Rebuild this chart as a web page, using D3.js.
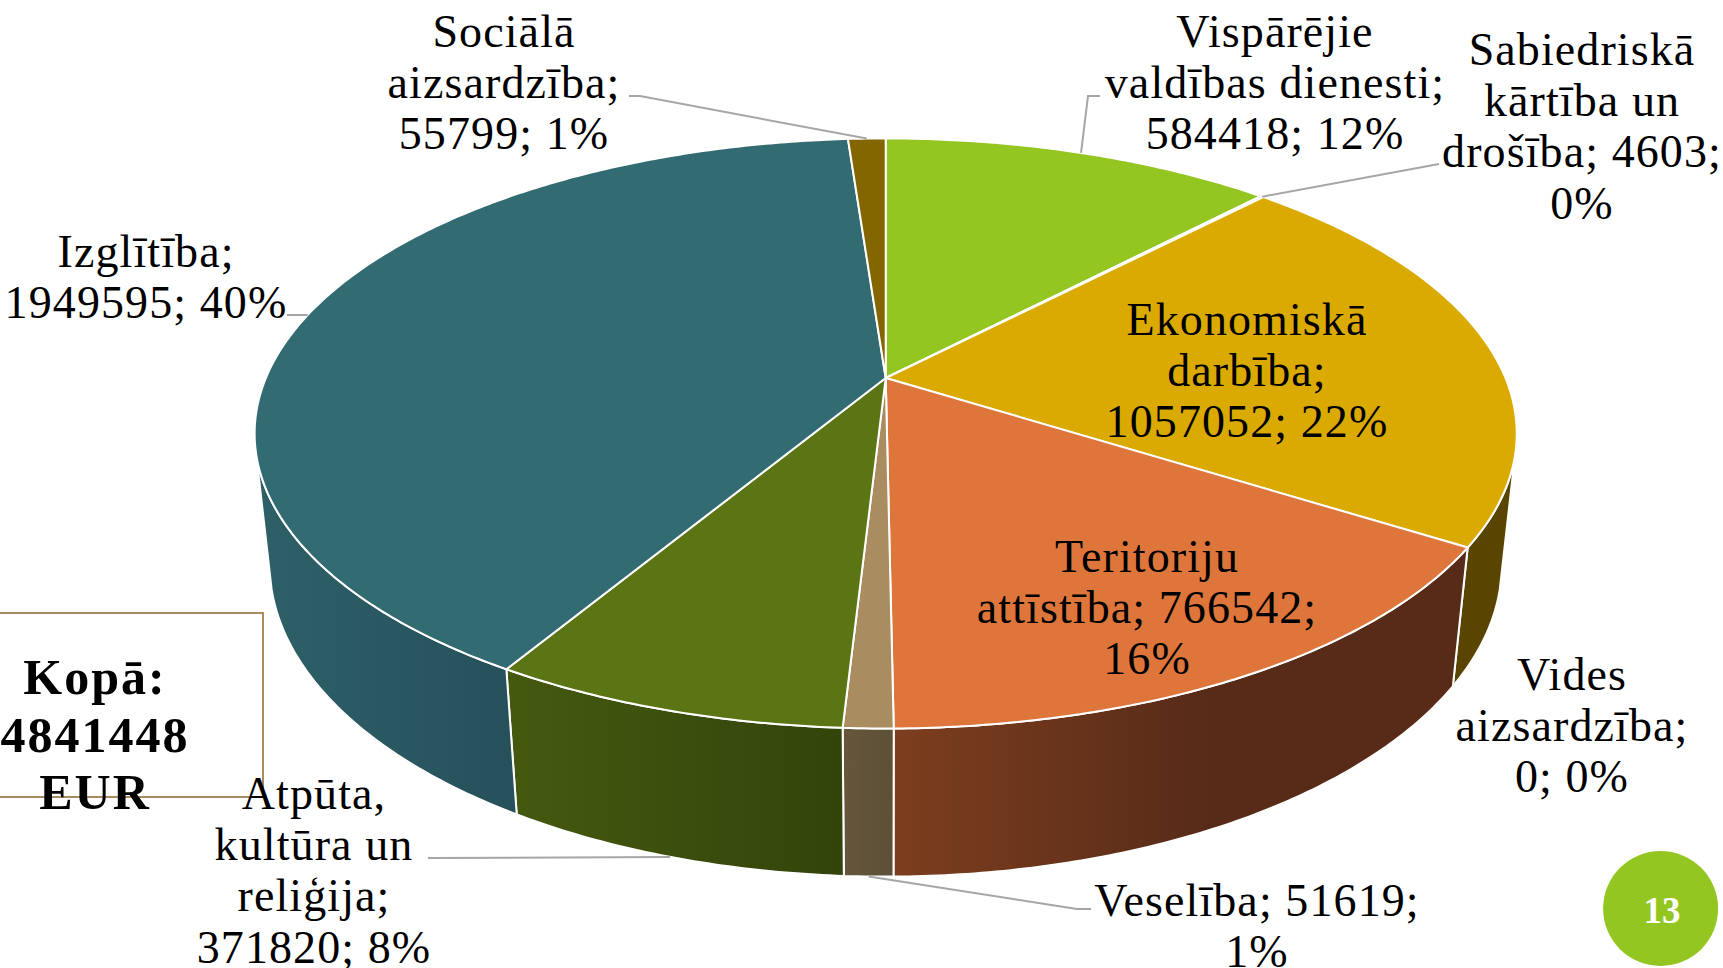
<!DOCTYPE html>
<html>
<head>
<meta charset="utf-8">
<script src="https://cdn.jsdelivr.net/npm/d3@7"></script>
<style>
  html, body { margin: 0; padding: 0; background: #fff; overflow: hidden; }
  text { font-family: "Liberation Serif", serif; fill: #000; }
</style>
</head>
<body>
<svg id="chart" width="1723" height="968"></svg>
<script>
const categories = [
  "Vispārējie valdības dienesti", "Sabiedriskā kārtība un drošība", "Ekonomiskā darbība",
  "Vides aizsardzība", "Teritoriju attīstība", "Veselība",
  "Atpūta, kultūra un reliģija", "Izglītība", "Sociālā aizsardzība",
];
const values = [584418, 4603, 1057052, 0, 766542, 51619, 371820, 1949595, 55799];
const percents = ["12%", "0%", "22%", "0%", "16%", "1%", "8%", "40%", "1%"];
const topColors = ["#94c622", "#cfe3e6", "#dbaa00", "#dbaa00", "#de763b", "#a98c60", "#5b7515", "#336b73", "#836600"];
const wallColors = [
  ["#5d7c14", "#5d7c14"], ["#7f8c8c", "#7f8c8c"], ["#5a4500", "#5a4500"], ["#5a4500", "#5a4500"],
  ["#7c3e1e", "#572b18"], ["#66563c", "#5c5037"], ["#45590f", "#33440b"], ["#2e6067", "#26505a"], ["#4d3c00", "#4d3c00"],
];
const labelLines = [
  ["Vispārējie", "valdības dienesti;", "584418; 12%"],
  ["Sabiedriskā", "kārtība un", "drošība; 4603;", "0%"],
  ["Ekonomiskā", "darbība;", "1057052; 22%"],
  ["Vides", "aizsardzība;", "0; 0%"],
  ["Teritoriju", "attīstība; 766542;", "16%"],
  ["Veselība; 51619;", "1%"],
  ["Atpūta,", "kultūra un", "reliģija;", "371820; 8%"],
  ["Izglītība;", "1949595; 40%"],
  ["Sociālā", "aizsardzība;", "55799; 1%"],
];
const labelAnchors = [
  [1275, 47], [1582, 65], [1247, 335], [1572, 690], [1147, 572],
  [1257, 916], [314, 809], [146, 267], [504, 47],
];
// elbow of each leader line, null when the label sits on the slice
const leaderElbows = [
  [[1088, 96], [1100, 96]], [[1439, 164]], null, null, null,
  [[1077, 909], [1091, 909]], [[428, 858]], [[305, 315], [287, 315]], [[640, 96], [629, 96]],
];
const totalLines = ["Kopā:", "4841448", "EUR"];
const pageNumber = "13";

const width = 1723;
const height = 968;
const lineHeight = 51.2;

const svg = d3.select("#chart");
const defs = svg.append("defs");

const cx = 885.7, cy = 378;
const radiusX = 619.8, radiusY = 284.6, depth = 132;
const tilt = 0.188, baseShrink = 0.0235;

const xScale = d3.scaleLinear().domain([-1, 1]).range([cx - radiusX, cx + radiusX]);
const yScale = d3.scaleLinear().domain([-1, 1]).range([cy - radiusY, cy + radiusY]);

// perspective projection of a rim point, z = 0 top of the pie, z = 1 its base
const project = (angle, r, z) => {
  const u = r * Math.sin(angle);
  const v = -r * Math.cos(angle);
  const s = 1 / (1 - tilt * v + baseShrink * z);
  return [cx + (xScale(u) - cx) * s, cy + (yScale(v) - cy + depth * z) * s];
};

const slices = d3.pie().sort(null).value((d) => d)(values);
const line = d3.line();
const arcAngles = (a, b) => {
  const n = Math.max(2, Math.ceil((b - a) / 0.01));
  return d3.range(n + 1).map((i) => a + ((b - a) * i) / n);
};

// walls first, the range stops where the side of the pie turns away
const wallFrom = (105 * Math.PI) / 180;
const wallTo = (255 * Math.PI) / 180;
slices.forEach((d, i) => {
  const a = Math.max(d.startAngle, wallFrom);
  const b = Math.min(d.endAngle, wallTo);
  if (b <= a) return;
  const angles = arcAngles(a, b);
  const pts = angles.map((t) => project(t, 1, 0)).concat(angles.slice().reverse().map((t) => project(t, 1, 1)));
  const xs = d3.extent(pts, (p) => p[0]);
  const grad = defs.append("linearGradient")
    .attr("id", `wall-${i}`)
    .attr("gradientUnits", "userSpaceOnUse")
    .attr("x1", xs[0]).attr("x2", i === 4 ? xs[0] + (xs[1] - xs[0]) * 0.55 : xs[1])
    .attr("y1", 0).attr("y2", 0);
  grad.append("stop").attr("offset", 0).attr("stop-color", wallColors[i][0]);
  grad.append("stop").attr("offset", 1).attr("stop-color", wallColors[i][1]);
  svg.append("path")
    .attr("d", line(pts) + "Z")
    .attr("fill", `url(#wall-${i})`)
    .attr("stroke", "#fff")
    .attr("stroke-width", 2)
    .attr("stroke-linejoin", "round");
});

slices.forEach((d, i) => {
  if (d.value === 0) return;
  const rim = arcAngles(d.startAngle, d.endAngle).map((t) => project(t, 1, 0));
  svg.append("path")
    .attr("d", line([[cx, cy]].concat(rim)) + "Z")
    .attr("fill", topColors[i])
    .attr("stroke", "#fff")
    .attr("stroke-width", 2)
    .attr("stroke-linejoin", "round");
});

// leader lines end on the rim at the middle of the slice
slices.forEach((d, i) => {
  if (!leaderElbows[i]) return;
  const mid = (d.startAngle + d.endAngle) / 2;
  const onWall = mid > wallFrom && mid < wallTo;
  const end = project(mid, 1, onWall ? 1 : 0);
  svg.append("path")
    .attr("d", line([end].concat(leaderElbows[i])))
    .attr("fill", "none")
    .attr("stroke", "#a6a6a6")
    .attr("stroke-width", 2);
});

// total box, runs off the left edge of the slide
svg.append("rect")
  .attr("x", -2).attr("y", 613)
  .attr("width", 265).attr("height", 184)
  .attr("fill", "none")
  .attr("stroke", "#a98c60")
  .attr("stroke-width", 2);

labelLines.forEach((lines, i) => {
  const t = svg.append("text")
    .attr("text-anchor", "middle")
    .attr("font-size", 46)
    .attr("letter-spacing", 1.1);
  lines.forEach((s, j) => {
    t.append("tspan")
      .attr("x", labelAnchors[i][0])
      .attr("y", labelAnchors[i][1] + j * lineHeight)
      .text(s);
  });
});

const total = svg.append("text")
  .attr("text-anchor", "middle")
  .attr("font-size", 50)
  .attr("font-weight", "bold")
  .attr("letter-spacing", 2);
totalLines.forEach((s, j) => {
  total.append("tspan")
    .attr("x", 95)
    .attr("y", 694 + j * 57.5)
    .text(s);
});

svg.append("ellipse")
  .attr("cx", 1660.6).attr("cy", 908.5)
  .attr("rx", 57.5).attr("ry", 57.5)
  .attr("fill", "#94c622");
svg.append("text")
  .attr("x", 1662).attr("y", 923)
  .attr("text-anchor", "middle")
  .attr("font-size", 37)
  .attr("font-weight", "bold")
  .style("fill", "#fff")
  .text(pageNumber);
</script>
</body>
</html>
